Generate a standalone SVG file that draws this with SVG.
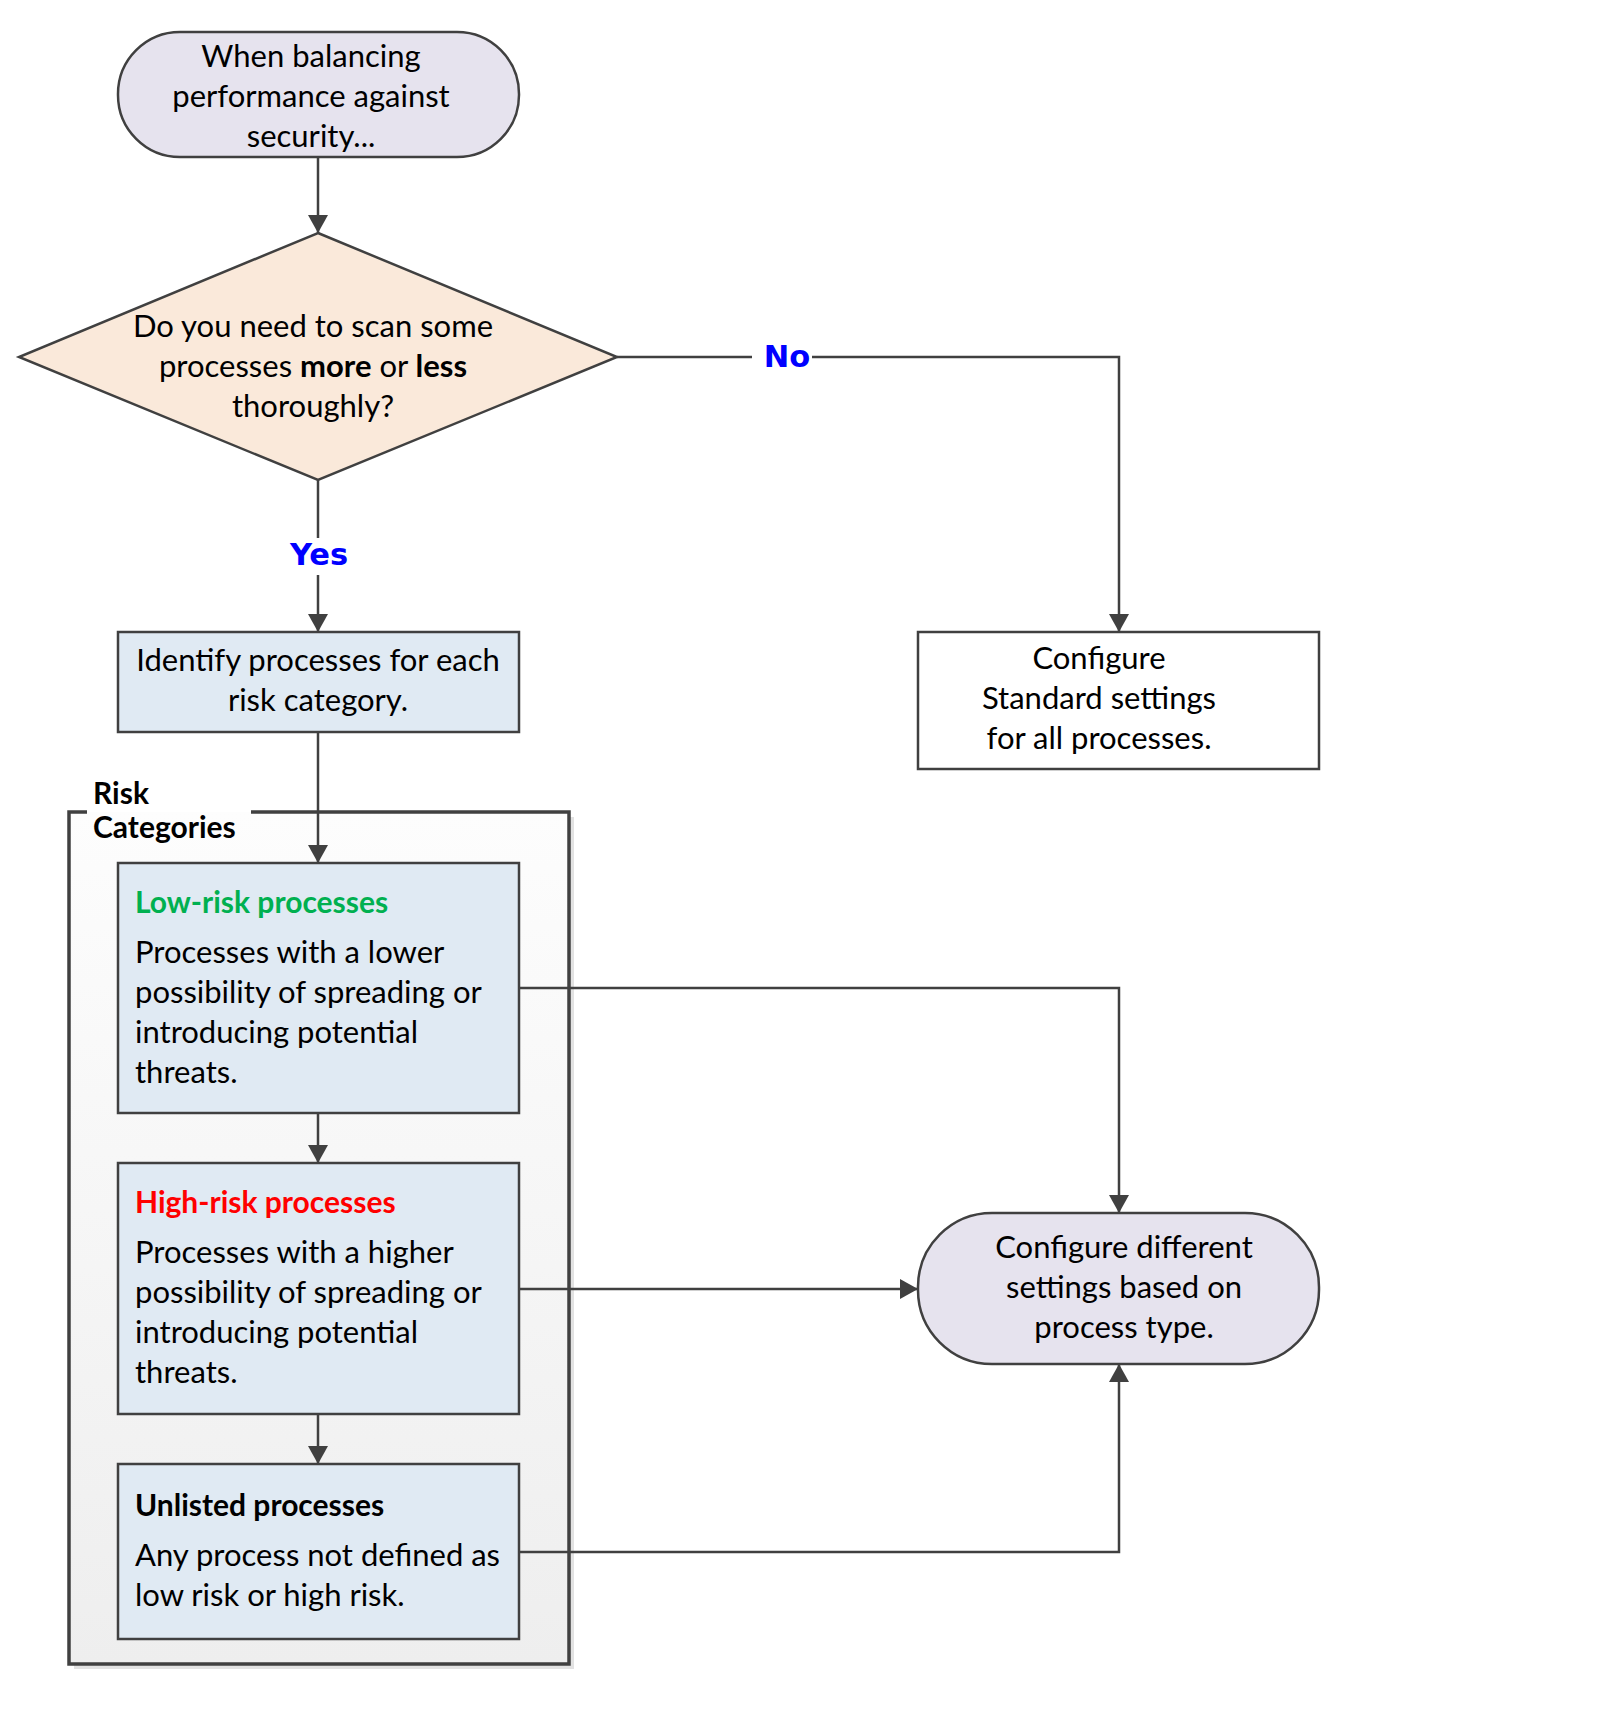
<svg xmlns="http://www.w3.org/2000/svg" width="1600" height="1710" viewBox="0 0 1600 1710">
<style>
.node{stroke:#404040;stroke-width:2.5}
.term{fill:#e6e3ee}
.dec{fill:#fae9da}
.proc{fill:#e0eaf3}
.plain{fill:#ffffff}
.t{font-family:Lato,"Open Sans",sans-serif;font-size:31px;fill:#000}
.c{text-anchor:middle}
.b{font-weight:bold;font-size:30px}
.lbl{font-family:"DejaVu Sans",sans-serif;font-weight:bold;font-size:30.5px;fill:#0000ff;text-anchor:middle}
.conn{fill:none;stroke:#404040;stroke-width:2.5}
</style>
<defs>
<marker id="arr" markerUnits="userSpaceOnUse" markerWidth="20" markerHeight="20" viewBox="0 0 20 20" refX="18" refY="10" orient="auto">
<path d="M0,0 L18,10 L0,20 Z" fill="#404040"/>
</marker>
<linearGradient id="cg" x1="0" y1="0" x2="0" y2="1">
<stop offset="0" stop-color="#fdfdfd"/>
<stop offset="1" stop-color="#eeeeee"/>
</linearGradient>
</defs>
<rect width="1600" height="1710" fill="#ffffff"/>

<g id="risk-categories">
<rect x="74" y="817" width="500" height="852" fill="#e2e2e2"/>
<rect x="69" y="812" width="500" height="852" fill="url(#cg)"/>
<path d="M87,812 L69,812 L69,1664 L569,1664 L569,812 L251,812" fill="none" stroke="#404040" stroke-width="3.5"/>
<text class="t b" x="93" y="804">Risk</text>
<text class="t b" x="93" y="838">Categories</text>
</g>

<g id="start">
<rect class="node term" x="118" y="32" width="401" height="125" rx="62" ry="62"/>
<text class="t c" x="311" y="67">When balancing</text>
<text class="t c" x="311" y="107">performance against</text>
<text class="t c" x="311" y="147">security...</text>
</g>

<g id="decision">
<polygon class="node dec" points="318,233 617,357 318,480 19,357"/>
<text class="t c" x="313" y="337">Do you need to scan some</text>
<text class="t c" x="313" y="377">processes <tspan font-weight="bold">more</tspan> or <tspan font-weight="bold">less</tspan></text>
<text class="t c" x="313" y="417">thoroughly?</text>
</g>

<g id="identify">
<rect class="node proc" x="118" y="632" width="401" height="100"/>
<text class="t c" x="318" y="671">Identify processes for each</text>
<text class="t c" x="318" y="711">risk category.</text>
</g>

<g id="standard">
<rect class="node plain" x="918" y="632" width="401" height="137"/>
<text class="t c" x="1099" y="669">Configure</text>
<text class="t c" x="1099" y="709">Standard settings</text>
<text class="t c" x="1099" y="749">for all processes.</text>
</g>

<g id="low-risk">
<rect class="node proc" x="118" y="863" width="401" height="250"/>
<text class="t b" x="135" y="913" style="fill:#00b050">Low-risk processes</text>
<text class="t" x="135" y="963">Processes with a lower</text>
<text class="t" x="135" y="1003">possibility of spreading or</text>
<text class="t" x="135" y="1043">introducing potential</text>
<text class="t" x="135" y="1083">threats.</text>
</g>

<g id="high-risk">
<rect class="node proc" x="118" y="1163" width="401" height="251"/>
<text class="t b" x="135" y="1213" style="fill:#ff0000">High-risk processes</text>
<text class="t" x="135" y="1263">Processes with a higher</text>
<text class="t" x="135" y="1303">possibility of spreading or</text>
<text class="t" x="135" y="1343">introducing potential</text>
<text class="t" x="135" y="1383">threats.</text>
</g>

<g id="unlisted">
<rect class="node proc" x="118" y="1464" width="401" height="175"/>
<text class="t b" x="135" y="1516">Unlisted processes</text>
<text class="t" x="135" y="1566">Any process not defined as</text>
<text class="t" x="135" y="1606">low risk or high risk.</text>
</g>

<g id="different">
<rect class="node term" x="918" y="1213" width="401" height="151" rx="74" ry="74"/>
<text class="t c" x="1124" y="1258">Configure different</text>
<text class="t c" x="1124" y="1298">settings based on</text>
<text class="t c" x="1124" y="1338">process type.</text>
</g>

<g id="connectors">
<path class="conn" d="M318,157 L318,233" marker-end="url(#arr)"/>
<path class="conn" d="M318,480 L318,538"/>
<path class="conn" d="M318,575 L318,632" marker-end="url(#arr)"/>
<path class="conn" d="M617,357 L752,357"/>
<path class="conn" d="M812,357 L1119,357 L1119,632" marker-end="url(#arr)"/>
<path class="conn" d="M318,732 L318,863" marker-end="url(#arr)"/>
<path class="conn" d="M318,1113 L318,1163" marker-end="url(#arr)"/>
<path class="conn" d="M318,1414 L318,1464" marker-end="url(#arr)"/>
<path class="conn" d="M519,988 L1119,988 L1119,1213" marker-end="url(#arr)"/>
<path class="conn" d="M519,1289 L918,1289" marker-end="url(#arr)"/>
<path class="conn" d="M519,1552 L1119,1552 L1119,1364" marker-end="url(#arr)"/>
<text class="lbl" x="319" y="565">Yes</text>
<text class="lbl" x="787" y="367">No</text>
</g>
</svg>
